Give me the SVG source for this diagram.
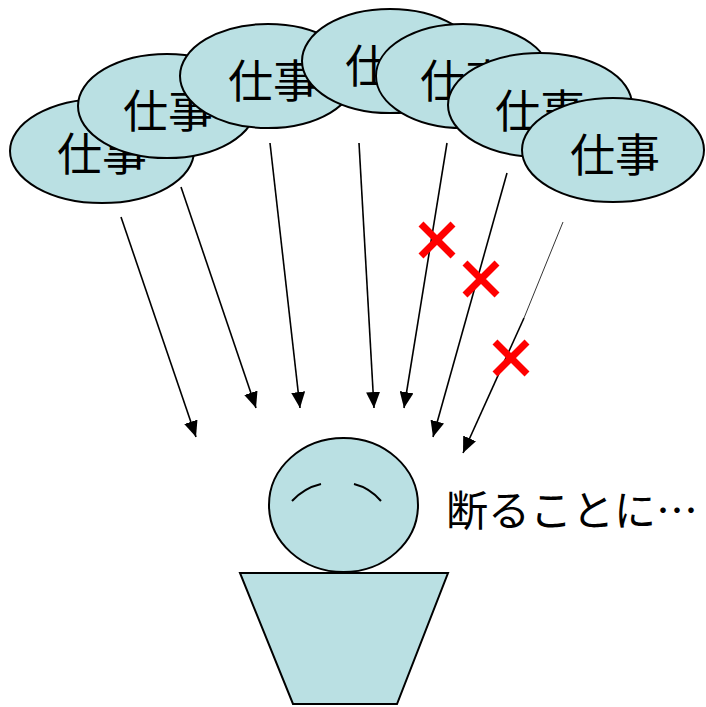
<svg xmlns="http://www.w3.org/2000/svg" width="706" height="707" viewBox="0 0 706 707">
  <style>
    .job ellipse { fill: #BAE0E3; stroke: #000; stroke-width: 2; }
    .job text { font-family: "Noto Sans CJK JP", "Noto Sans", sans-serif; font-size: 45px; fill: #000; text-anchor: middle; }
    .arrow { stroke: #000; stroke-width: 1.6; fill: none; marker-end: url(#head); }
    .cross { stroke: #FF0000; stroke-width: 7; fill: none; }
    .person { fill: #BAE0E3; stroke: #000; stroke-width: 2; }
    .say { font-family: "Noto Sans CJK JP", "Noto Sans", sans-serif; font-size: 42px; fill: #000; }
  </style>
  <defs>
    <marker id="head" viewBox="0 0 16 14" refX="16" refY="7" markerWidth="16" markerHeight="14" markerUnits="userSpaceOnUse" orient="auto">
      <path d="M0,0 L16,7 L0,14 Z" fill="#000"/>
    </marker>
  </defs>

  <rect width="706" height="707" fill="#fff"/>

  <!-- stacked job bubbles, back to front -->
  <g id="job1" class="job"><ellipse cx="102" cy="151" rx="92" ry="52"/><text x="102" y="171">仕事</text></g>
  <g id="job2" class="job"><ellipse cx="167" cy="106" rx="89" ry="52"/><text x="168" y="128">仕事</text></g>
  <g id="job3" class="job"><ellipse cx="268" cy="76" rx="88" ry="52"/><text x="273" y="98">仕事</text></g>
  <g id="job4" class="job"><ellipse cx="390" cy="61" rx="88" ry="52"/><text x="390" y="83">仕事</text></g>
  <g id="job5" class="job"><ellipse cx="463" cy="76" rx="87" ry="52"/><text x="465" y="98">仕事</text></g>
  <g id="job6" class="job"><ellipse cx="540" cy="105" rx="92" ry="52"/><text x="540" y="128">仕事</text></g>
  <g id="job7" class="job"><ellipse cx="613" cy="150" rx="91" ry="52"/><text x="615" y="172">仕事</text></g>

  <!-- requests heading toward the person -->
  <g id="connectors">
    <line class="arrow" x1="121" y1="217" x2="196" y2="437"/>
    <line class="arrow" x1="181" y1="187" x2="256" y2="408"/>
    <line class="arrow" x1="270" y1="143" x2="300" y2="408"/>
    <line class="arrow" x1="359" y1="143" x2="374" y2="408"/>
    <line class="arrow" x1="447" y1="143" x2="404" y2="408"/>
    <line class="arrow" x1="507" y1="173" x2="433" y2="437"/>
    <line x1="563" y1="222" x2="524" y2="318" stroke="#000" stroke-width="0.8"/>
    <line class="arrow" x1="524" y1="318" x2="463" y2="453"/>
  </g>

  <!-- refusal marks -->
  <g id="crosses" class="cross">
    <path d="M421,224 L453,256 M453,224 L421,256"/>
    <path d="M465,263 L497,295 M497,263 L465,295"/>
    <path d="M495,342 L527,374 M527,342 L495,374"/>
  </g>

  <!-- person -->
  <g id="person">
    <polygon class="person" points="240,573 448,573 397,704 293,704"/>
    <ellipse class="person" cx="343.5" cy="505" rx="74.5" ry="67"/>
    <path d="M292,501 Q304,488 321,484" fill="none" stroke="#000" stroke-width="2"/>
    <path d="M354,484 Q370,488 381,501" fill="none" stroke="#000" stroke-width="2"/>
  </g>

  <g id="caption"><text class="say" x="446" y="526">断ることに…</text></g>
</svg>
